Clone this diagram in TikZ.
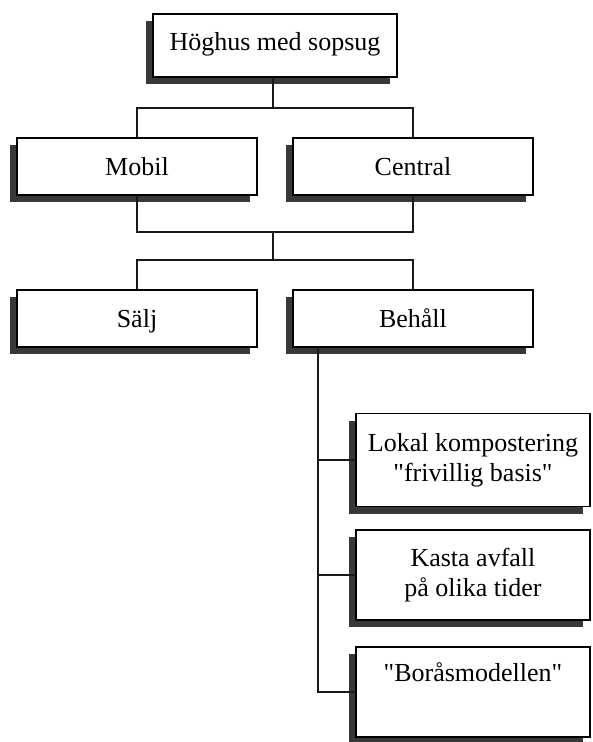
\documentclass[tikz,border=0pt]{standalone}
\usepackage{fontspec}
\setmainfont{Liberation Serif}
\usetikzlibrary{shadows}
\definecolor{shade}{gray}{0.22}
\begin{document}
\begin{tikzpicture}[x=1pt,y=-1pt,
  box/.style={draw=black, line width=1.4pt, fill=white, inner sep=0pt,
    align=center, font=\fontsize{26}{30}\selectfont,
    drop shadow={shadow xshift=-7pt, shadow yshift=-7pt, fill=shade, opacity=1}},
  oneline/.style={text height=19pt, text depth=2pt},
  conn/.style={draw=black!90, line width=2.4pt}]
\useasboundingbox (0,0) rectangle (593,742);

% tree of options
\node[box, text height=15pt, text depth=6pt, minimum width=244pt, minimum height=63pt] (top) at (275,45.5) {Höghus med sopsug};
\node[box, oneline, minimum width=240pt, minimum height=57pt] (mobil) at (137,166.5) {Mobil};
\node[box, oneline, minimum width=240pt, minimum height=57pt] (central) at (413,166.5) {Central};
\node[box, oneline, minimum width=240pt, minimum height=57pt] (salj) at (137,318.5) {Sälj};
\node[box, oneline, minimum width=240pt, minimum height=57pt] (behall) at (413,318.5) {Behåll};
\node[box, minimum width=234pt, minimum height=93pt] (lokal) at (473,460) {Lokal kompostering\\\textquotedbl frivillig basis\textquotedbl};
\node[box, minimum width=234pt, minimum height=90pt] (kasta) at (473,575) {Kasta avfall\\på olika tider};
\node[box, minimum width=234pt, minimum height=90pt] (boras) at (473,692) {\textquotedbl Boråsmodellen\textquotedbl\\\strut};

% bus coordinates
\coordinate (b1) at (273,108);
\coordinate (b2) at (273,232);
\coordinate (b3) at (273,260);
\coordinate (spine) at (318,347);

% connectors
\draw[conn] (top.south -| b1) -- (b1);
\draw[conn] (mobil.north) -- (mobil.north |- b1) -- (central.north |- b1) -- (central.north);
\draw[conn] (mobil.south) -- (mobil.south |- b2) -- (central.south |- b2) -- (central.south);
\draw[conn] (b2) -- (b3);
\draw[conn] (salj.north) -- (salj.north |- b3) -- (behall.north |- b3) -- (behall.north);
\draw[conn] (spine) -- (spine |- boras.west) -- (boras.west);
\draw[conn] (spine |- lokal.west) -- (lokal.west);
\draw[conn] (spine |- kasta.west) -- (kasta.west);
\end{tikzpicture}
\end{document}
